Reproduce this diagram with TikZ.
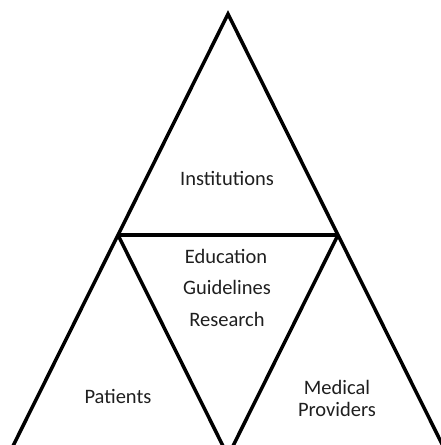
\documentclass[tikz,border=0pt]{standalone}
\usepackage{fontspec}
\setmainfont{Carlito}
\begin{document}
\begin{tikzpicture}[x=1pt,y=-1pt,
  edge/.style={line width=3.5pt, line join=miter},
  lbl/.style={font=\fontsize{20.5}{24}\selectfont, text=black!88, align=center, inner sep=0pt, anchor=base}]
  \useasboundingbox (0,0) rectangle (441,445);
  \clip (0,0) rectangle (441,445);
  % corner and mid points of the large triangle
  \coordinate (apex) at (228,14);
  \coordinate (ml) at (118,235);
  \coordinate (mr) at (338,235);
  \coordinate (bl) at (8,456);
  \coordinate (bm) at (228,456);
  \coordinate (br) at (448,456);
  \draw[edge] (bl) -- (apex) -- (br);
  \draw[edge] (ml) -- (mr);
  \draw[edge] (ml) -- (bm) -- (mr);
  % labels
  \node[lbl] (inst) at (227,185) {Institutions};
  \node[lbl] (edu) at (226,263) {Education};
  \node[lbl] (guide) at (227,294) {Guidelines};
  \node[lbl] (res) at (227,326) {Research};
  \node[lbl] (pat) at (118,403) {Patients};
  \node[lbl] (med) at (337,394) {Medical};
  \node[lbl] (prov) at (337,416) {Providers};
\end{tikzpicture}
\end{document}
